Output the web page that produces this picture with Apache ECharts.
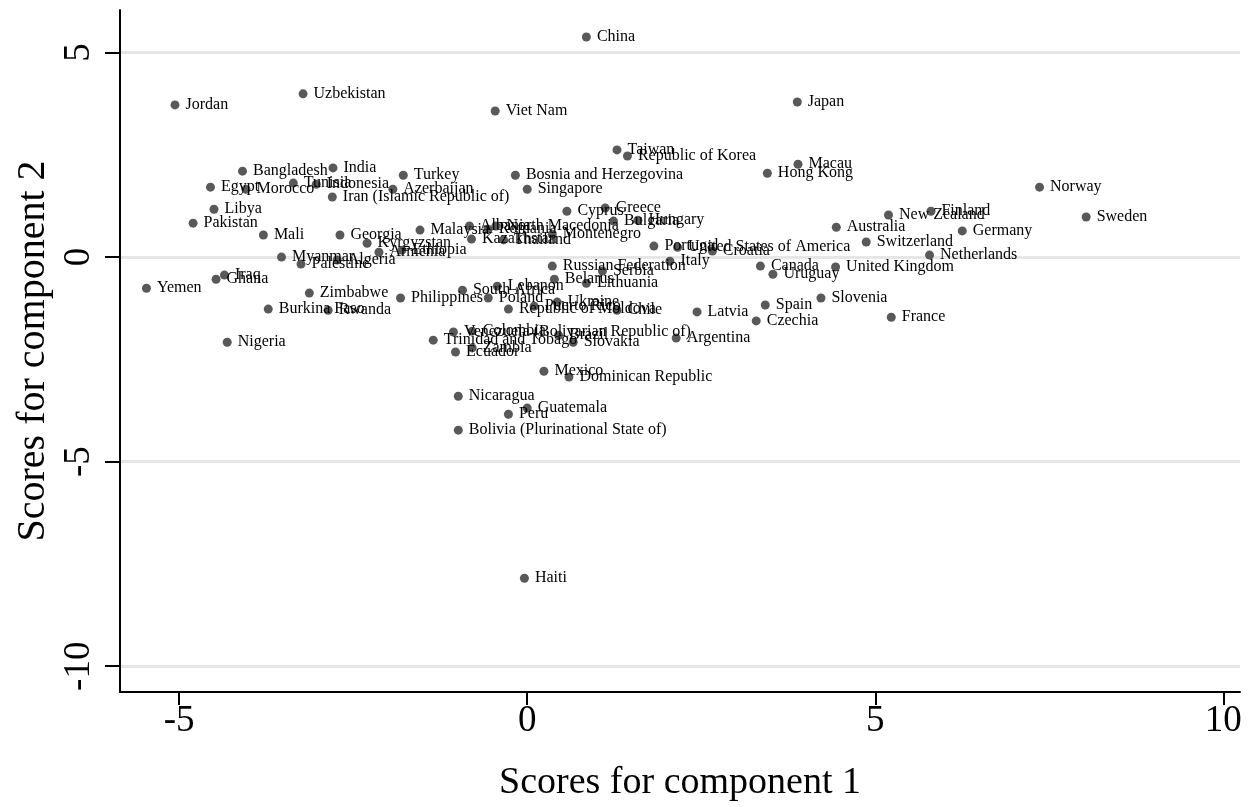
<!DOCTYPE html>
<html>
<head>
<meta charset="utf-8">
<script src="https://cdn.jsdelivr.net/npm/echarts@6/dist/echarts.min.js"></script>
<style>
  html, body { margin: 0; padding: 0; background: #fff; }
  #main { width: 1255px; height: 807px; }
</style>
</head>
<body>
<div id="main"></div>
<script>
// country names and their scores (component 1, component 2)
const countries = [
  'China', 'Jordan', 'Uzbekistan', 'Viet Nam', 'Japan', 'Taiwan', 'Republic of Korea', 'Macau', 'Hong Kong',
  'Bangladesh', 'India', 'Turkey', 'Bosnia and Herzegovina', 'Egypt', 'Morocco', 'Tunisia', 'Indonesia',
  'Iran (Islamic Republic of)', 'Azerbaijan', 'Singapore', 'Libya', 'Pakistan', 'Cyprus', 'Greece', 'Bulgaria',
  'Hungary', 'Norway', 'Sweden', 'Finland', 'New Zealand', 'Germany', 'Australia', 'Switzerland', 'Netherlands',
  'United Kingdom', 'Canada', 'Uruguay', 'Slovenia', 'Spain', 'Czechia', 'France', 'Latvia', 'Argentina', 'Italy',
  'Portugal', 'United States of America', 'Croatia', 'Russian Federation', 'Serbia', 'Belarus', 'Lithuania',
  'South Africa', 'Lebanon', 'Poland', 'Republic of Moldova', 'Puerto Rico', 'Ukraine', 'Chile', 'Philippines',
  'Zimbabwe', 'Burkina Faso', 'Rwanda', 'Nigeria', 'Yemen', 'Iraq', 'Ghana', 'Mali', 'Myanmar', 'Palestine',
  'Algeria', 'Georgia', 'Kyrgyzstan', 'Armenia', 'Ethiopia', 'Malaysia', 'Albania', 'Romania', 'North Macedonia',
  'Montenegro', 'Thailand', 'Kazakhstan', 'Trinidad and Tobago', 'Venezuela (Bolivarian Republic of)', 'Colombia',
  'Brazil', 'Ecuador', 'Zambia', 'Slovakia', 'Mexico', 'Dominican Republic', 'Nicaragua', 'Guatemala', 'Peru',
  'Bolivia (Plurinational State of)', 'Haiti'
];
const comp1 = [
  0.85, -5.06, -3.22, -0.46, 3.88, 1.29, 1.44, 3.89, 3.45,
  -4.09, -2.79, -1.78, -0.17, -4.55, -4.04, -3.36, -3.03,
  -2.80, -1.93, 0.00, -4.50, -4.80, 0.57, 1.12, 1.24,
  1.59, 7.36, 8.03, 5.80, 5.19, 6.25, 4.44, 4.87, 5.78,
  4.43, 3.35, 3.53, 4.22, 3.42, 3.29, 5.23, 2.44, 2.14, 2.05,
  1.82, 2.16, 2.66, 0.36, 1.08, 0.39, 0.85,
  -0.93, -0.43, -0.56, -0.27, 0.10, 0.43, 1.29, -1.82,
  -3.13, -3.72, -2.86, -4.31, -5.47, -4.35, -4.47, -3.79, -3.53, -3.25,
  -2.73, -2.69, -2.30, -2.13, -1.80, -1.54, -0.83, -0.56, -0.45,
  0.36, -0.34, -0.80, -1.35, -1.06, -0.79,
  0.45, -1.03, -0.79, 0.66, 0.24, 0.60, -0.99, 0.00, -0.27,
  -0.99, -0.04
];
const comp2 = [
  5.38, 3.72, 3.99, 3.57, 3.79, 2.62, 2.47, 2.27, 2.05,
  2.10, 2.18, 2.00, 2.00, 1.71, 1.66, 1.81, 1.78,
  1.47, 1.66, 1.66, 1.17, 0.83, 1.12, 1.20, 0.88,
  0.90, 1.71, 0.98, 1.12, 1.03, 0.64, 0.73, 0.37, 0.05,
  -0.24, -0.22, -0.42, -1.00, -1.17, -1.56, -1.47, -1.34, -1.98, -0.10,
  0.27, 0.24, 0.15, -0.22, -0.34, -0.54, -0.64,
  -0.81, -0.71, -1.00, -1.27, -1.20, -1.10, -1.30, -1.00,
  -0.88, -1.27, -1.30, -2.08, -0.76, -0.44, -0.54, 0.54, 0.00, -0.17,
  -0.07, 0.54, 0.34, 0.12, 0.17, 0.66, 0.76, 0.68, 0.76,
  0.56, 0.42, 0.44, -2.03, -1.83, -1.81,
  -1.91, -2.32, -2.22, -2.08, -2.79, -2.93, -3.40, -3.69, -3.84,
  -4.23, -7.85
];
const xTicks = [-5, 0, 5, 10];
const yTicks = [5, 0, -5, -10];

const points = countries.map((name, i) => ({ name: name, value: [comp1[i], comp2[i]] }));

const serif = 'Liberation Serif, Times New Roman, serif';
const chart = echarts.init(document.getElementById('main'));
const option = {
  animation: false,
  grid: { left: 120, top: 10, right: 15, bottom: 115 },
  xAxis: {
    type: 'value',
    min: -5.85,
    max: 10.24,
    name: 'Scores for component 1',
    nameLocation: 'middle',
    nameGap: 72,
    nameTextStyle: { fontFamily: serif, fontSize: 38, color: '#000' },
    axisLine: { onZero: false, lineStyle: { color: '#000', width: 2 } },
    axisTick: { show: true, length: 13, customValues: xTicks, lineStyle: { color: '#000', width: 2 } },
    axisLabel: { customValues: xTicks, fontFamily: serif, fontSize: 37, color: '#000', margin: 11 },
    splitLine: { show: false }
  },
  yAxis: {
    type: 'value',
    min: -10.63,
    max: 6.04,
    name: 'Scores for component 2',
    nameLocation: 'middle',
    nameGap: 62,
    nameTextStyle: { fontFamily: serif, fontSize: 40, color: '#000' },
    axisLine: { onZero: false, lineStyle: { color: '#000', width: 2 } },
    axisTick: { show: true, length: 15, customValues: yTicks, lineStyle: { color: '#000', width: 2 } },
    axisLabel: { customValues: yTicks, rotate: 90, fontFamily: serif, fontSize: 37, color: '#000', margin: 22 },
    splitLine: { show: true, lineStyle: { color: '#e6e6e6', width: 3 } }
  },
  series: [
    {
      type: 'scatter',
      symbolSize: 9,
      itemStyle: { color: '#595959', opacity: 1 },
      label: {
        show: true,
        position: 'right',
        distance: 6,
        formatter: '{b}',
        fontFamily: serif,
        fontSize: 16,
        color: '#000'
      },
      labelLayout: { hideOverlap: false },
      data: points
    }
  ]
};
chart.setOption(option);
</script>
</body>
</html>
